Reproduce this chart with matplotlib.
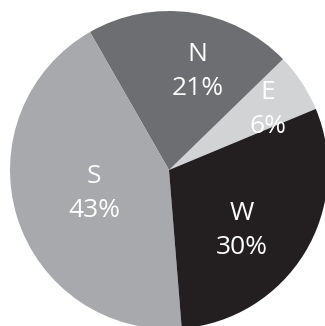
import matplotlib
matplotlib.use("Agg")
import matplotlib.pyplot as plt

# Data
categories = ["E", "N", "S", "W"]
shares = [6, 21, 43, 30]
colors = ["#d1d3d4", "#6d6e71", "#a7a9ac", "#231f20"]

# label block centres (data coords, radius = 1)
label_pos = {"E": (0.62, 0.38), "N": (0.18, 0.62), "S": (-0.47, -0.145), "W": (0.46, -0.38)}

W_PX, H_PX = 325, 326
fig = plt.figure(figsize=(W_PX / 100, H_PX / 100), dpi=100)
cx, cy, r = 169, 170, 159
ax = fig.add_axes([(cx - r) / W_PX, (H_PX - cy - r) / H_PX, 2 * r / W_PX, 2 * r / H_PX])
ax.axis("off")

ax.pie(shares, colors=colors, startangle=22.6, counterclock=True, radius=1,
       wedgeprops=dict(linewidth=0), normalize=True)
ax.set_xlim(-1, 1)
ax.set_ylim(-1, 1)
ax.set_aspect("equal")

half = 17 / r
total = sum(shares)
for cat, val in zip(categories, shares):
    x, y = label_pos[cat]
    ax.text(x, y + half, cat, ha="center", va="center", color="white",
            fontsize=19, family=["Open Sans", "DejaVu Sans"])
    ax.text(x, y - half, f"{round(val / total * 100)}%", ha="center", va="center",
            color="white", fontsize=19, family=["Open Sans", "DejaVu Sans"])

fig.savefig("out.png", dpi=100)
